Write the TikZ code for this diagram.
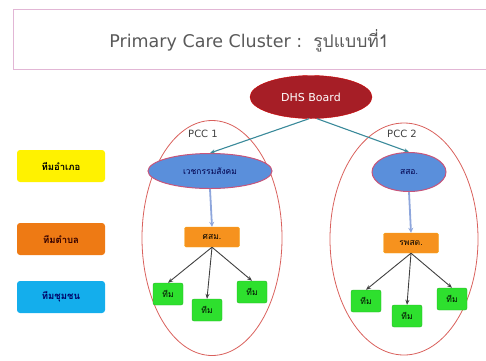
\documentclass[tikz,border=0pt]{standalone}
\usepackage{fontspec}
\setmainfont{DejaVu Sans}
\newfontfamily\thaifont[Script=Thai]{Loma}
\usetikzlibrary{
  arrows.meta,
  shapes.geometric
}
\definecolor{dhsred}{HTML}{A61E26}
\definecolor{pccred}{HTML}{D9605C}
\definecolor{vcblue}{HTML}{5A8FDB}
\definecolor{vcedge}{HTML}{C8557A}
\definecolor{arrteal}{HTML}{3A8A9A}
\definecolor{arrblue}{HTML}{8EA6DC}
\definecolor{boxorg}{HTML}{F6921E}
\definecolor{lgyel}{HTML}{FFF200}
\definecolor{lgorg}{HTML}{EE7A14}
\definecolor{lgblue}{HTML}{14AEEC}
\definecolor{grn}{HTML}{2EE02E}
\definecolor{titlepink}{HTML}{E2B6D5}

\begin{document}
\begin{tikzpicture}[x=1pt, y=-1pt,
lg/.style={rounded corners=3pt, minimum width=88pt, minimum height=32pt, inner sep=0pt, font=\thaifont\bfseries\fontsize{9.5}{10}\selectfont},
pc/.style={ellipse, draw=pccred, line width=0.8pt, inner sep=0pt},
vc/.style={ellipse, draw=vcedge, fill=vcblue, line width=1pt, inner sep=0pt, text=blue!30!black, font=\thaifont\fontsize{8.5}{9}\selectfont},
ob/.style={rounded corners=1.5pt, fill=boxorg, draw=boxorg!80!yellow, minimum width=55pt, minimum height=20pt, inner sep=0pt, font=\thaifont\fontsize{8.5}{9}\selectfont},
gb/.style={rounded corners=2pt, fill=grn, draw=grn!80!black, minimum width=30pt, minimum height=22pt, inner sep=0pt, font=\thaifont\fontsize{8.5}{9}\selectfont},
ta/.style={-{Stealth[length=5pt,width=4pt]}, arrteal, line width=1.1pt},
ba/.style={-{Stealth[length=5pt,width=5pt]}, arrblue, line width=1.8pt},
ga/.style={-{Stealth[length=5pt,width=4pt]}, black!75, line width=0.9pt},
lb/.style={font=\fontsize{10}{11}\selectfont, text=black!75}
]
\useasboundingbox (0,0) rectangle (486,360);
% title
\node[draw=titlepink, line width=0.8pt, minimum width=495pt, minimum height=60pt, anchor=north west] (tb) at (13,9) {};
\node[text=black!65, font=\fontsize{17.5}{20}\selectfont] (tt) at (249,41) {Primary Care Cluster :\ \ {\thaifont รูปแบบที่1}};
% legend
\node[lg, fill=lgyel] (l1) at (61,166) {ทีมอำเภอ};
\node[lg, fill=lgorg, text=black!80!red] (l2) at (61,239) {ทีมตำบล};
\node[lg, fill=lgblue, text=blue!40!black] (l3) at (61,297) {ทีมชุมชน};
% board
\node[ellipse, fill=dhsred, draw=red!80!black, minimum width=122pt, minimum height=43pt, inner sep=0pt, text=white, font=\fontsize{11}{12}\selectfont] (dhs) at (311,97) {DHS Board};
% clusters
\node[pc, minimum width=140pt, minimum height=235pt] (p1) at (212,238) {};
\node[pc, minimum width=148pt, minimum height=232pt] (p2) at (404,239) {};
\node[lb] (p1l) at (203,134) {PCC 1};
\node[lb] (p2l) at (402,134) {PCC 2};
\node[vc, minimum width=124pt, minimum height=35pt] (vs) at (210,171) {เวชกรรมสังคม};
\node[vc, minimum width=74pt, minimum height=39pt] (ss) at (409,172) {สสอ.};
\draw[ta] (dhs.265) -- (vs.north);
\draw[ta] (dhs.285) -- (ss.north);
\node[ob] (sm) at (212,237) {ศสม.};
\node[ob] (rp) at (411,243) {รพสต.};
\draw[ba] (vs.south) -- (sm.north);
\draw[ba] (ss.south) -- (rp.north);
\node[gb] (g1) at (168,294) {ทีม};
\node[gb] (g2) at (207,310) {ทีม};
\node[gb] (g3) at (252,292) {ทีม};
\node[gb] (g4) at (366,301) {ทีม};
\node[gb] (g5) at (407,316) {ทีม};
\node[gb] (g6) at (452,299) {ทีม};
\draw[ga] (sm.south) -- (g1.north);
\draw[ga] (sm.south) -- (g2.north);
\draw[ga] (sm.south) -- (g3.north);
\draw[ga] (rp.south) -- (g4.north);
\draw[ga] (rp.south) -- (g5.north);
\draw[ga] (rp.south) -- (g6.north);
\end{tikzpicture}
\end{document}
